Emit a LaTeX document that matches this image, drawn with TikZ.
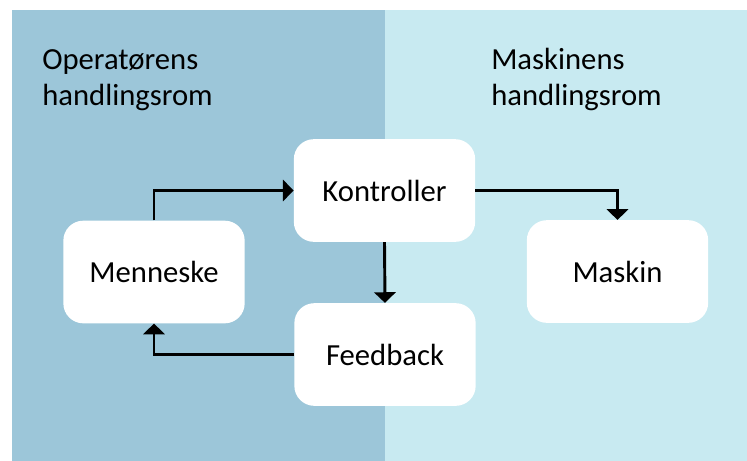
\documentclass[tikz,border=0pt]{standalone}
\usepackage{fontspec}
\setmainfont{Carlito}
\usetikzlibrary{arrows.meta}
\definecolor{leftbg}{RGB}{156,198,217}
\definecolor{rightbg}{RGB}{200,234,241}
\tikzset{
  box/.style={rectangle, rounded corners=15pt, fill=white, minimum width=136pt, minimum height=77pt, inner sep=0pt, font=\fontsize{23}{27}\selectfont},
  title/.style={anchor=base west, align=left, inner sep=0pt, font=\fontsize{23}{27}\selectfont},
  arr/.style={line width=2.2pt, -{Triangle[width=16pt,length=8pt]}}
}
\begin{document}
\begin{tikzpicture}[x=0.75pt,y=-0.75pt]
\useasboundingbox (0,0) rectangle (747,461);
\fill[leftbg] (12,10) rectangle (385,461);
\fill[rightbg] (385,10) rectangle (747,461);
\node[title] (t1) at (42,105) {Operatørens\\handlingsrom};
\node[title] (t2) at (491,105) {Maskinens\\handlingsrom};
\node[box] (kon) at (384.5,190.5) {Kontroller};
\node[box] (fee) at (385,354.5) {Feedback};
\node[box] (men) at (154,272) {Menneske};
\node[box] (mas) at (617.5,271.5) {Maskin};
\draw[arr] (men.north) |- (kon.west);
\draw[arr] (kon.east) -| (mas.north);
\draw[arr] (kon.south) -- (fee.north);
\draw[arr] (fee.west) -| (men.south);
\end{tikzpicture}
\end{document}
